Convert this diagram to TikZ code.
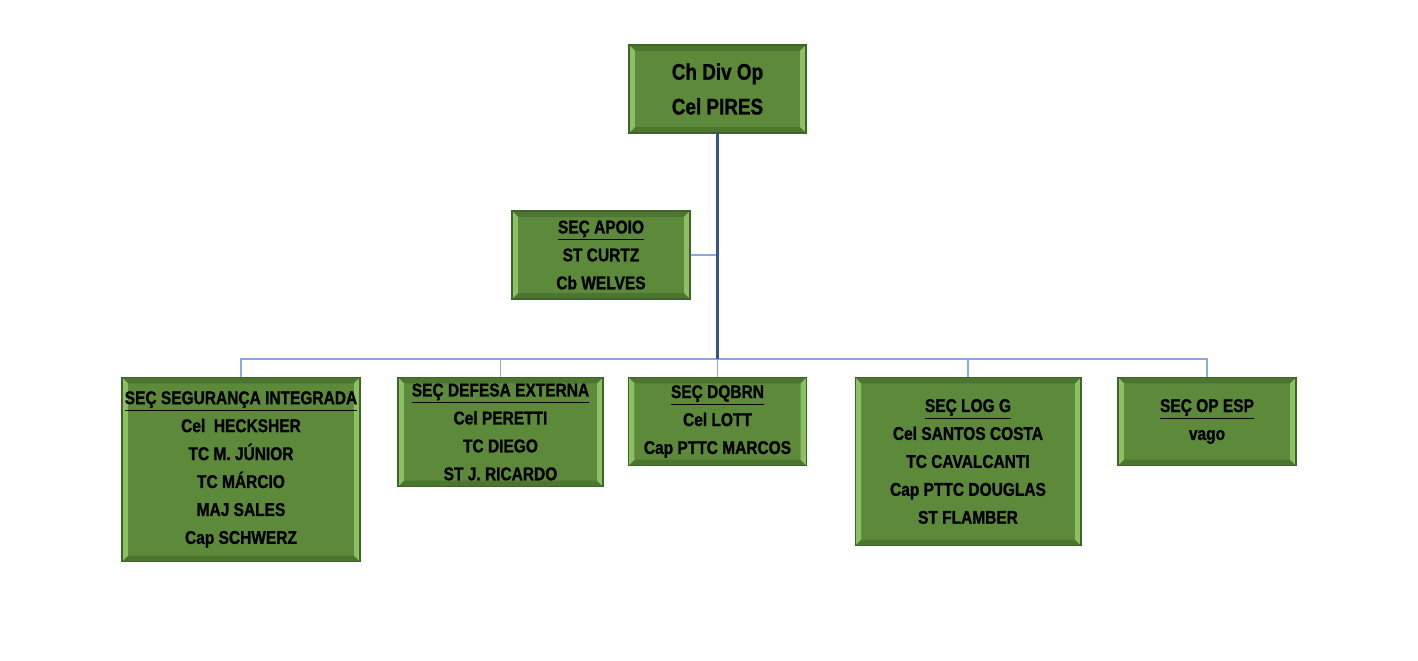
\documentclass[tikz,border=0pt]{standalone}
\usepackage{fontspec}
\setmainfont{Liberation Sans}[FakeStretch=0.84, BoldFeatures={FakeBold=1.2}]
\definecolor{unitfill}{HTML}{5D8A3A}
\definecolor{unitedge}{HTML}{3E6427}
\definecolor{unitlight}{HTML}{8CC064}
\definecolor{unitdark}{HTML}{4C7630}
\definecolor{trunkblue}{HTML}{34548F}
\definecolor{busblue}{HTML}{8EA8D8}
\tikzset{
  unitbox/.style={draw=unitedge, fill=unitfill, line width=0.6pt, align=center,
    inner sep=0pt, font=\bfseries\fontsize{10.5}{15.9}\selectfont,
    path picture={
      \coordinate (bnw) at (path picture bounding box.north west);
      \coordinate (bne) at (path picture bounding box.north east);
      \coordinate (bsw) at (path picture bounding box.south west);
      \coordinate (bse) at (path picture bounding box.south east);
      \fill[unitdark] (bnw) -- (bne) -- ([shift={(-3.4pt,-3.4pt)}]bne) -- ([shift={(3.4pt,-3.4pt)}]bnw) -- cycle;
      \fill[unitdark] (bsw) -- (bse) -- ([shift={(-3.4pt,3.4pt)}]bse) -- ([shift={(3.4pt,3.4pt)}]bsw) -- cycle;
      \fill[unitlight] (bsw) -- (bnw) -- ([shift={(3.4pt,-3.4pt)}]bnw) -- ([shift={(3.4pt,3.4pt)}]bsw) -- cycle;
      \fill[unitlight] (bse) -- (bne) -- ([shift={(-3.4pt,-3.4pt)}]bne) -- ([shift={(-3.4pt,3.4pt)}]bse) -- cycle;
    }},
  trunkline/.style={draw=trunkblue, line width=1.3pt},
  busline/.style={draw=busblue, line width=0.9pt},
}
\begin{document}
\begin{tikzpicture}[x=0.02cm, y=-0.02cm]
    \useasboundingbox[fill=white] (0,0) rectangle (1418,661);

    % chefia
    \node[unitbox, minimum width=3.54cm, minimum height=1.76cm,
          font=\bfseries\fontsize{12.8}{19.8}\selectfont] (chefe) at (717.5, 89)
          { Ch Div Op \\ Cel PIRES };

    \node[unitbox, minimum width=3.56cm, minimum height=1.76cm] (apoio) at (601, 255)
          { \underline{SEÇ APOIO} \\ ST CURTZ \\ Cb WELVES };

    % secoes
    \node[unitbox, anchor=north, minimum width=4.76cm, minimum height=3.68cm] (seg) at (241, 377)
          { \underline{SEÇ SEGURANÇA INTEGRADA} \\ Cel\ \ HECKSHER \\ TC M. JÚNIOR \\ TC MÁRCIO \\ MAJ SALES \\ Cap SCHWERZ };
    \node[unitbox, anchor=north, minimum width=4.10cm, minimum height=2.18cm] (defesa) at (500.5, 377)
          { \underline{SEÇ DEFESA EXTERNA} \\ Cel PERETTI \\ TC DIEGO \\ ST J. RICARDO };
    \node[unitbox, anchor=north, minimum width=3.56cm, minimum height=1.76cm] (dqbrn) at (717.5, 377)
          { \underline{SEÇ DQBRN} \\ Cel LOTT \\ Cap PTTC MARCOS };
    \node[unitbox, anchor=north, minimum width=4.52cm, minimum height=3.36cm] (logg) at (968, 377)
          { \underline{SEÇ LOG G} \\ Cel SANTOS COSTA \\ TC CAVALCANTI \\ Cap PTTC DOUGLAS \\ ST FLAMBER };
    \node[unitbox, anchor=north, minimum width=3.56cm, minimum height=1.76cm] (opesp) at (1207, 377)
          { \underline{SEÇ OP ESP} \\ vago };

    % ligacoes
    \coordinate (bus) at (717.5, 359);
    \draw[busline] (seg.north) -- (seg.north |- bus) -- (opesp.north |- bus) -- (opesp.north);
    \foreach \sec in {defesa, dqbrn, logg}
        \draw[busline] (\sec.north) -- (\sec.north |- bus);
    \draw[busline] (apoio.east) -- (apoio.east -| bus);
    \draw[trunkline] (chefe.south) -- (bus);

\end{tikzpicture}
\end{document}
